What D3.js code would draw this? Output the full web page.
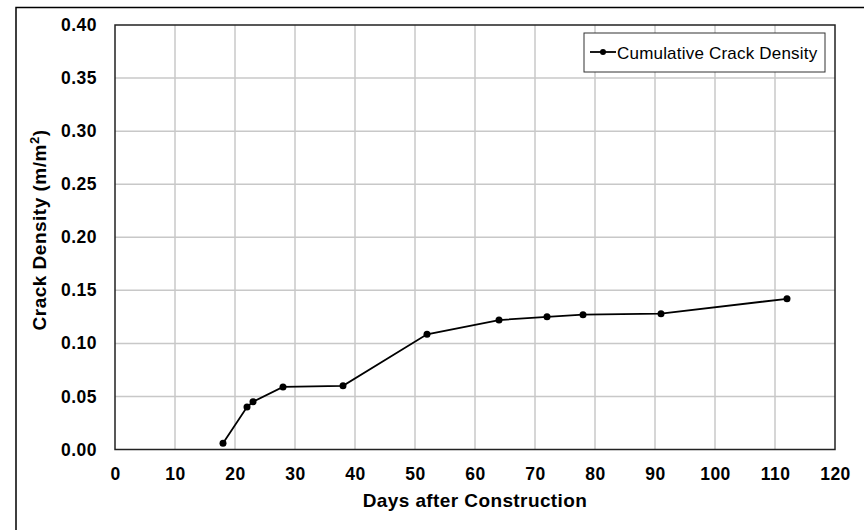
<!DOCTYPE html>
<html>
<head>
<meta charset="utf-8">
<script src="https://cdn.jsdelivr.net/npm/d3@7"></script>
<style>
  body { margin: 0; background: #fff; }
  svg { display: block; font-family: "Liberation Sans", Arial, sans-serif; }
</style>
</head>
<body>
<div id="chart"></div>
<script>
// Cumulative crack density vs days after construction
const days = [18, 22, 23, 28, 38, 52, 64, 72, 78, 91, 112];
const density = [0.006, 0.040, 0.045, 0.059, 0.060, 0.1085, 0.122, 0.125, 0.127, 0.128, 0.142];
const xTicks = [0, 10, 20, 30, 40, 50, 60, 70, 80, 90, 100, 110, 120];
const yTicks = [0, 0.05, 0.10, 0.15, 0.20, 0.25, 0.30, 0.35, 0.40];
const seriesName = 'Cumulative Crack Density';

const W = 864, H = 530;
const margin = { top: 25, right: 29, bottom: 80.5, left: 115 };
const width = W - margin.left - margin.right;
const height = H - margin.top - margin.bottom;

const svg = d3.select('#chart').append('svg')
    .attr('width', W)
    .attr('height', H);

// outer chart border
svg.append('rect')
    .attr('x', 16).attr('y', 7.5)
    .attr('width', W).attr('height', H)
    .attr('fill', 'none')
    .attr('stroke', '#000')
    .attr('stroke-width', 1.5);

const g = svg.append('g')
    .attr('transform', `translate(${margin.left}, ${margin.top})`);

const x = d3.scaleLinear().domain([0, 120]).range([0, width]);
const y = d3.scaleLinear().domain([0, 0.4]).range([height, 0]);

// gridlines
g.append('g')
    .selectAll('line')
    .data(xTicks.slice(1, -1))
    .join('line')
    .attr('x1', d => x(d)).attr('x2', d => x(d))
    .attr('y1', 0).attr('y2', height)
    .attr('stroke', '#c8c8c8')
    .attr('stroke-width', 1.5);

g.append('g')
    .selectAll('line')
    .data(yTicks.slice(1, -1))
    .join('line')
    .attr('x1', 0).attr('x2', width)
    .attr('y1', d => y(d)).attr('y2', d => y(d))
    .attr('stroke', '#c8c8c8')
    .attr('stroke-width', 1.5);

// plot border
g.append('rect')
    .attr('width', width)
    .attr('height', height)
    .attr('fill', 'none')
    .attr('stroke', '#222')
    .attr('stroke-width', 1.5);

// axes (labels only)
const xAxis = g.append('g')
    .attr('transform', `translate(0, ${height})`)
    .call(d3.axisBottom(x).tickValues(xTicks).tickSize(0).tickPadding(18).tickFormat(d3.format('d')));
const yAxis = g.append('g')
    .call(d3.axisLeft(y).tickValues(yTicks).tickSize(0).tickPadding(18).tickFormat(d3.format('.2f')));

[xAxis, yAxis].forEach(a => {
    a.select('.domain').remove();
    a.selectAll('text')
        .attr('fill', '#000')
        .style('font-family', '"Liberation Sans", Arial, sans-serif')
        .style('font-size', '17.5px')
        .style('letter-spacing', '0.5px')
        .style('font-weight', 'bold');
});

// axis titles
g.append('text')
    .attr('x', width / 2)
    .attr('y', 482)
    .attr('text-anchor', 'middle')
    .style('font-size', '19px')
    .style('letter-spacing', '0.4px')
    .style('font-weight', 'bold')
    .text('Days after Construction');

const yTitle = g.append('text')
    .attr('transform', 'rotate(-90)')
    .attr('x', -205)
    .attr('y', -69)
    .attr('text-anchor', 'middle')
    .style('font-size', '19px')
    .style('letter-spacing', '0.5px')
    .style('font-weight', 'bold');
yTitle.append('tspan').text('Crack Density (m/m');
yTitle.append('tspan').attr('dy', -7).style('font-size', '13px').text('2');
yTitle.append('tspan').attr('dy', 7).text(')');

// series line and markers
const line = d3.line()
    .x((d, i) => x(days[i]))
    .y(d => y(d));

g.append('path')
    .datum(density)
    .attr('d', line)
    .attr('fill', 'none')
    .attr('stroke', '#000')
    .attr('stroke-width', 1.8);

g.selectAll('.pt')
    .data(density)
    .join('circle')
    .attr('class', 'pt')
    .attr('cx', (d, i) => x(days[i]))
    .attr('cy', d => y(d))
    .attr('r', 3.5)
    .attr('fill', '#000');

// legend
const legend = svg.append('g').attr('transform', 'translate(584, 33)');
legend.append('rect')
    .attr('width', 241)
    .attr('height', 39)
    .attr('fill', '#fff')
    .attr('stroke', '#333')
    .attr('stroke-width', 1);
legend.append('line')
    .attr('x1', 6).attr('x2', 32)
    .attr('y1', 19).attr('y2', 19)
    .attr('stroke', '#000')
    .attr('stroke-width', 1.8);
legend.append('circle')
    .attr('cx', 19).attr('cy', 19)
    .attr('r', 3)
    .attr('fill', '#000');
legend.append('text')
    .attr('x', 33)
    .attr('y', 26)
    .style('font-size', '17px')
    .style('letter-spacing', '0.2px')
    .text(seriesName);
</script>
</body>
</html>
